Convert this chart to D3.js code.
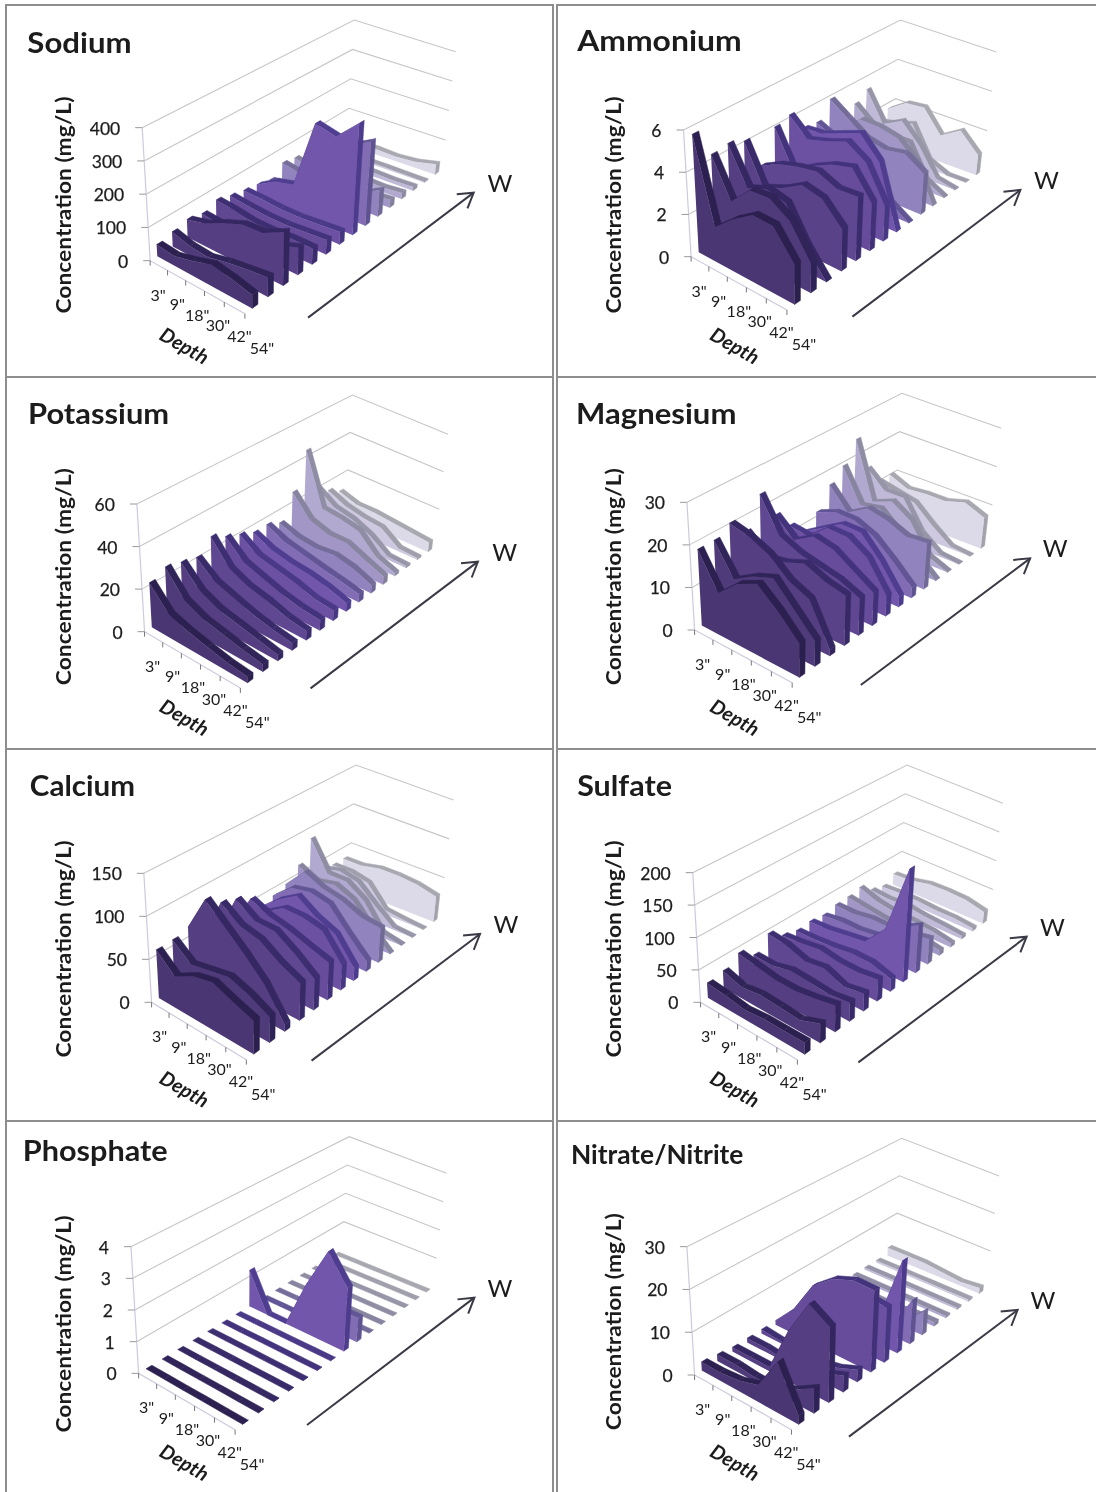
<!DOCTYPE html>
<html><head><meta charset="utf-8">
<script src="https://cdn.jsdelivr.net/npm/d3@7"></script>
<style>html,body{margin:0;padding:0;background:#fff}svg{display:block;filter:blur(0.45px)}text{font-family:Lato,"Open Sans",sans-serif;fill:#1c1c1c}</style>
</head><body><svg id="c" width="1096" height="1492"></svg>
<script>
const depths = ['3"','9"','18"','30"','42"','54"'];
const seriesIds = d3.range(15);

const sodium = [
 [35,30,45,65,55,40],[45,30,25,40,50,60],[55,70,100,125,130,165],[45,40,35,40,60,85],
 [60,55,45,45,50,50],[47,40,35,35,40,45],[38,35,30,30,35,40],[30,65,80,300,285,355],
 [20,30,35,60,230,270],[50,40,30,35,50,85],[42,30,25,20,20,25],[30,25,20,18,15,20],
 [22,15,14,12,10,12],[20,10,5,5,4,3],[25,20,18,15,20,35]];
const ammonium = [
 [5.6,1.65,2.5,3.2,3.2,1.9],[4.2,2.4,3.4,3.5,2.9,1.4],[4.3,2.6,3.0,2.8,1.2,0],[4.0,2.2,2.6,3.2,3.0,2.0],
 [2.4,2.9,3.2,3.4,3.0,3.1],[3.9,2.2,2.8,3.3,3.6,2.3],[4.1,3.3,3.6,4.0,3.4,1.7],[3.1,3.2,3.6,4.0,3.0,0],
 [3.0,2.6,3.0,2.6,0.6,0],[3.8,3.2,2.6,2.4,2.6,2.0],[2.0,2.8,2.8,2.6,1.8,0],[2.9,2.2,2.0,2.0,0.5,0],
 [3.3,1.9,2.4,1.5,0.2,0],[1.4,1.6,1.9,0.4,0,0],[1.7,2.3,2.4,1.3,1.9,1.0]];
const potassium = [
 [21,11,8,6,4,3],[24,13,9,7,5,3.5],[22,13,9,7,5,3],[20,13,10,7,5,3.5],
 [26,15,11,9,6,4.5],[22,14,11,8,6,5],[19,13,11,9,6,5],[16,12,10,9,7,4],
 [16,12,10,8,6,4],[13,10,9,10,8,4],[25,15,12,12,8,4],[43,17,16,14,5,1.5],
 [20,14,12,8,1.5,1],[15,11,9,8,1.5,1],[11,8,8,7,6,5]];
const magnesium = [
 [18,10,14.5,17,13,8],[18,11,14,16,11,6],[20,19,17,13,11,1.5],[16,12,13,15,13,12],
 [23,15,13,12,11,9],[16,12,15,14,11,8],[11.5,11,15,15,12,5],[8,11,14,14,9,2.5],
 [11,13,13,11,7,2.5],[16,11,14,13,11,11.5],[19,11,12,8,4,0],[24,10,12,9,2,0],
 [15,11,11,4,0.5,0],[10,9,8,4,0.5,0],[10,8,8.5,8.5,10,8]];
const calcium = [
 [56,37,50,56,47,39],[57,40,45,50,42,30],[61,105,85,65,42,8],[40,91,75,70,55,44],
 [35,85,70,70,55,37],[30,75,65,60,52,45],[30,50,65,65,60,30],[35,55,70,55,45,15],
 [40,60,65,60,35,12],[45,70,60,55,45,42],[60,50,55,45,20,0],[85,50,50,35,5,0],
 [40,45,40,20,2,0],[35,35,30,5,2,0],[35,35,40,40,38,32]];
const sulfate = [
 [23,20,15,18,18,18],[27,18,22,20,18,30],[40,35,30,30,35,42],[23,22,30,28,25,30],
 [43,40,30,35,22,28],[27,30,35,30,30,35],[21,22,25,30,30,20],[23,25,30,35,70,185],
 [20,25,25,30,60,78],[25,25,30,30,35,42],[26,22,18,15,14,8],[30,20,15,14,12,6],
 [14,12,14,10,8,5],[8,10,10,8,8,5],[18,20,27,28,27,20]];
const phosphate = [
 [0,0,0,0,0,0],[0,0,0,0,0,0],[0,0,0,0,0,0],[0,0,0,0,0,0],[0,0,0,0,0,0],[0,0,0,0,0,0],[0,0,0,0,0,0],
 [1.2,0,0,1.6,3.0,2.1],[0,0,0,0,0.8,0.8],
 [0,0,0,0,0,0],[0,0,0,0,0,0],[0,0,0,0,0,0],[0,0,0,0,0,0],[0,0,0,0,0,0],[0,0,0,0,0,0]];
const nitrate = [
 [2,2,2.5,4,12,2],[1.5,1.5,1,1,3,6],[1,1,1,12,21,18],[1,1,.5,0,2,4],
 [1,.5,0,0,1,3],[1,6,14,18,20,20],[1,1,8,12,14,13.5],[0,0,0,5,6,23],
 [0,0,0,0,2,11],[0,0,0,0,1,6],[.5,.5,.5,.5,1,1],[.5,.5,.5,.5,.5,.5],
 [.5,.5,.5,.5,.5,.5],[.5,.5,.5,.5,.5,.5],[2,2,2,1.5,1,1.5]];

const sodiumTicks=[0,100,200,300,400], ammoniumTicks=[0,2,4,6], potassiumTicks=[0,20,40,60],
      magnesiumTicks=[0,10,20,30], calciumTicks=[0,50,100,150], sulfateTicks=[0,50,100,150,200],
      phosphateTicks=[0,1,2,3,4], nitrateTicks=[0,10,20,30];

// layout, in crop coordinates: ox,oy = panel offset, sx = horizontal crop scale (vertical is 3)
const panels=[
 {title:'Sodium',data:sodium,ticks:sodiumTicks,ox:0,oy:0,sx:2.85,P00:[428,782],P10:[698,941],P01:[990,413],P11:[1260,508],Hf:399,Hb:353,arrow:[878,953,1350,578],W:[1425,575],tp:[78,160,297,29],yt:615,dp:[515,1035]},
 {title:'Ammonium',data:ammonium,ticks:ammoniumTicks,ox:550,oy:0,sx:2.87,P00:[405,770],P10:[680,930],P01:[985,414],P11:[1242,510],Hf:380,Hb:354,arrow:[868,950,1350,570],W:[1425,568],tp:[78,154,472,29],yt:615,dp:[520,1035]},
 {title:'Potassium',data:potassium,ticks:potassiumTicks,ox:0,oy:380,sx:2.85,P00:[412,755],P10:[685,924],P01:[985,382],P11:[1240,500],Hf:383,Hb:337,arrow:[885,925,1362,545],W:[1438,542],tp:[80,132,402,29],yt:590,dp:[515,1010]},
 {title:'Magnesium',data:magnesium,ticks:magnesiumTicks,ox:550,oy:380,sx:2.87,P00:[415,750],P10:[695,908],P01:[990,385],P11:[1257,490],Hf:383,Hb:345,arrow:[892,915,1378,535],W:[1450,532],tp:[75,132,460,29],yt:590,dp:[520,1010]},
 {title:'Calcium',data:calcium,ticks:calciumTicks,ox:0,oy:750,sx:2.85,P00:[432,757],P10:[702,929],P01:[995,395],P11:[1255,500],Hf:387,Hb:350,arrow:[888,932,1368,552],W:[1442,550],tp:[85,139,300,29],yt:597,dp:[515,1015]},
 {title:'Sulfate',data:sulfate,ticks:sulfateTicks,ox:550,oy:750,sx:2.87,P00:[432,757],P10:[710,929],P01:[1005,390],P11:[1262,505],Hf:389,Hb:345,arrow:[885,937,1368,560],W:[1442,557],tp:[78,137,272,29],yt:597,dp:[520,1015]},
 {title:'Phosphate',data:phosphate,ticks:phosphateTicks,ox:0,oy:1120,sx:2.85,P00:[395,760],P10:[670,929],P01:[975,390],P11:[1235,500],Hf:380,Hb:340,arrow:[875,915,1352,533],W:[1425,532],tp:[65,124,413,29],yt:612,dp:[515,1025]},
 {title:'Nitrate/Nitrite',data:nitrate,ticks:nitrateTicks,ox:550,oy:1120,sx:2.87,P00:[415,765],P10:[693,929],P01:[990,392],P11:[1252,505],Hf:385,Hb:337,arrow:[858,950,1342,570],W:[1415,568],tp:[60,132,495,26],yt:605,dp:[520,1025]}
];

const svg=d3.select('#c');
const borders=[[6,5,547,372],[557,5,545,372],[6,377,547,372],[557,377,545,372],[6,749,547,372],[557,749,545,372],[6,1121,547,380],[557,1121,545,380]];
svg.append('g').selectAll('rect').data(borders).join('rect')
  .attr('x',d=>d[0]).attr('y',d=>d[1]).attr('width',d=>d[2]).attr('height',d=>d[3])
  .attr('fill','none').attr('stroke','#8d8d8d').attr('stroke-width',2);

const faceColor=d3.scaleLinear().domain([0,3,7,9,11,14]).range(['#4a3672','#5a4289','#7256ab','#9183be','#b2a9d0','#dcd9e8']);
const topColor=d3.scaleLinear().domain([0,4,7,10,14]).range(['#2c2050','#3d2e72','#4f3e90','#86849f','#a8a8b0']);
const uScale=d3.scalePoint().domain(depths).range([0,1]);
const tScale=d3.scaleLinear().domain([0,14]).range([0.03,0.955]);
const slab=0.024;

function quadMap(p0,p1,p2,p3){ // (u,t): p0(0,0) p1(1,0) p2(1,1) p3(0,1)
  const sx=p0[0]-p1[0]+p2[0]-p3[0], sy=p0[1]-p1[1]+p2[1]-p3[1];
  const dx1=p1[0]-p2[0],dx2=p3[0]-p2[0],dy1=p1[1]-p2[1],dy2=p3[1]-p2[1];
  const den=dx1*dy2-dx2*dy1, g=(sx*dy2-dx2*sy)/den, h=(dx1*sy-sx*dy1)/den;
  const a=p1[0]-p0[0]+g*p1[0], b=p3[0]-p0[0]+h*p3[0], d=p1[1]-p0[1]+g*p1[1], e=p3[1]-p0[1]+h*p3[1];
  return (u,t)=>{const w=g*u+h*t+1;return [(a*u+b*t+p0[0])/w,(d*u+e*t+p0[1])/w];};
}
const poly=pts=>'M'+pts.map(p=>p[0].toFixed(1)+','+p[1].toFixed(1)).join('L')+'Z';

panels.forEach(p=>{
  const X=x=>p.ox+x/p.sx, Y=y=>p.oy+y/3, Z=c=>[X(c[0]),Y(c[1])];
  const floor=quadMap(Z(p.P00),Z(p.P10),Z(p.P11),Z(p.P01));
  const Hf=p.Hf/3,Hb=p.Hb/3,cx=Z(p.P00)[0]+100,k=0.0006;
  const ymax=d3.max(p.ticks);
  const frac=d3.scaleLinear().domain([0,ymax]).range([0,1]);
  const P=(u,t,v)=>{const b=floor(u,t),H=frac(v)*(Hf+(Hb-Hf)*t);return [b[0]+H*(b[0]-cx)*k,b[1]-H];};
  const g=svg.append('g');

  // back walls
  p.ticks.filter(v=>v>0).forEach(v=>{
    g.append('path').attr('d','M'+[P(0,0,v),P(0,1,v),P(1,1,v)].map(q=>q.join(',')).join('L'))
     .attr('fill','none').attr('stroke','#c6c6c6').attr('stroke-width',1.1);
  });
  g.append('path').attr('d','M'+[P(0,0,ymax),P(0,0,0),P(1,0,0)].map(q=>q.join(',')).join('L'))
   .attr('fill','none').attr('stroke','#cfc9dc').attr('stroke-width',1.2);

  // value axis
  p.ticks.forEach(v=>{
    const q=P(0,0,v);
    g.append('line').attr('x1',q[0]-7).attr('y1',q[1]).attr('x2',q[0]).attr('y2',q[1]).attr('stroke','#9a9a9a');
    g.append('text').attr('x',q[0]-22).attr('y',q[1]+7).attr('text-anchor','end').attr('font-size',17.5).attr('stroke','#1c1c1c').attr('stroke-width',0.25).text(v);
  });
  // depth axis
  depths.forEach(d=>{
    const u=uScale(d),q=P(u,0,0);
    g.append('line').attr('x1',q[0]).attr('y1',q[1]).attr('x2',q[0]).attr('y2',q[1]+5).attr('stroke','#777');
    g.append('text').attr('x',q[0]+8+9*u).attr('y',q[1]+40).attr('text-anchor','middle').attr('font-size',16).text(d);
  });
  g.append('text').attr('transform',`translate(${X(p.dp[0])},${Y(p.dp[1])+7}) rotate(30)`)
   .attr('text-anchor','middle').attr('font-size',20).attr('font-weight',700).attr('font-style','italic').text('Depth');
  g.append('text').attr('transform',`translate(${p.ox+71},${Y(p.yt)}) rotate(-90)`)
   .attr('text-anchor','middle').attr('font-size',21).attr('font-weight',700)
   .attr('textLength',217).attr('lengthAdjust','spacingAndGlyphs').text('Concentration (mg/L)');
  g.append('text').attr('x',X(p.tp[0])).attr('y',Y(p.tp[1])).attr('font-size',p.tp[3]).attr('font-weight',700)
   .attr('textLength',p.tp[2]/p.sx).attr('lengthAdjust','spacingAndGlyphs').text(p.title);

  // W arrow
  const a=p.arrow,ax0=X(a[0]),ay0=Y(a[1]),ax1=X(a[2]),ay1=Y(a[3]),ang=Math.atan2(ay1-ay0,ax1-ax0);
  const head=s=>[ax1-17*Math.cos(ang+s),ay1-17*Math.sin(ang+s)];
  const ag=g.append('g').attr('stroke','#3a3a46').attr('stroke-width',2).attr('fill','none');
  ag.append('line').attr('x1',ax0).attr('y1',ay0).attr('x2',ax1).attr('y2',ay1);
  ag.append('path').attr('d','M'+[head(0.55),[ax1,ay1],head(-0.55)].map(q=>q.join(',')).join('L'));
  g.append('text').attr('x',X(p.W[0])).attr('y',Y(p.W[1])).attr('text-anchor','middle').attr('font-size',24).attr('fill','#333').text('W');

  // ribbons, back to front
  seriesIds.slice().reverse().forEach(s=>{
    const vals=p.data[s],t0=tScale(s),t1=t0+slab,sg=g.append('g');
    const us=depths.map(uScale);
    const top=d3.pairs(us.map((u,i)=>[u,vals[i]]));
    top.forEach(([a,b])=>{
      sg.append('path').attr('d',poly([P(a[0],t0,a[1]),P(b[0],t0,b[1]),P(b[0],t1,b[1]),P(a[0],t1,a[1])]))
        .attr('fill',topColor(s)).attr('stroke',topColor(s)).attr('stroke-width',0.5);
    });
    const last=vals[5];
    sg.append('path').attr('d',poly([P(1,t0,0),P(1,t1,0),P(1,t1,last),P(1,t0,last)]))
      .attr('fill',d3.color(topColor(s)).darker(0.1)).attr('stroke',topColor(s)).attr('stroke-width',0.5);
    const face=us.map((u,i)=>P(u,t0,vals[i])).concat([P(1,t0,0),P(0,t0,0)]);
    sg.append('path').attr('d',poly(face)).attr('fill',faceColor(s));
  });
});
</script></body></html>
